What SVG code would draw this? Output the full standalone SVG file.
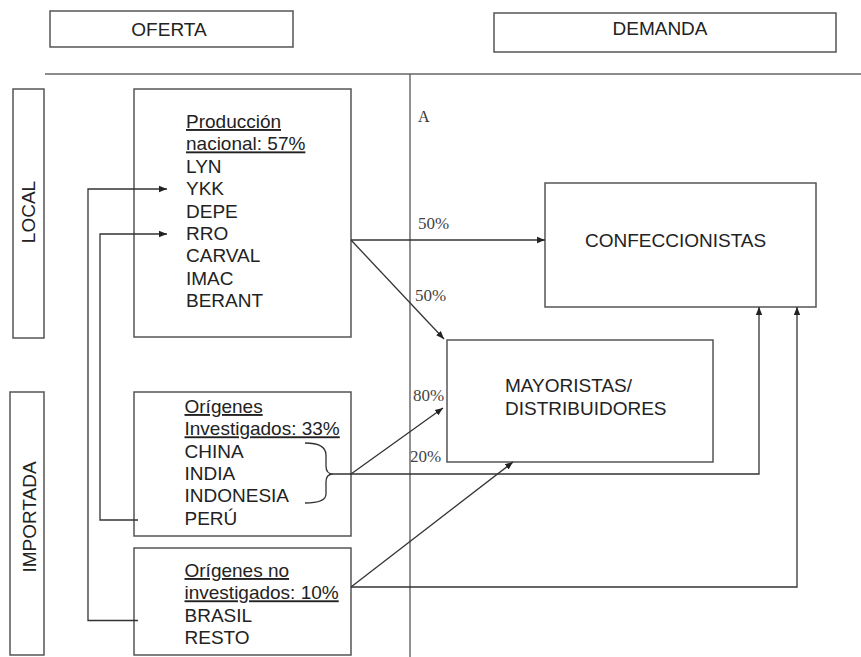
<svg xmlns="http://www.w3.org/2000/svg" width="861" height="657" viewBox="0 0 861 657">
<defs>
<marker id="arr" viewBox="0 0 10 10" refX="10" refY="5" markerWidth="8" markerHeight="8" markerUnits="userSpaceOnUse" orient="auto">
<path d="M0,1 L10,5 L0,9 z" fill="#222"/>
</marker>
<style>
.box{fill:none;stroke:#555;stroke-width:1.5}
.t{font-family:"Liberation Sans",Arial,sans-serif;font-size:19px;fill:#222}
.u{text-decoration:underline}
.p{font-family:"Liberation Serif","Times New Roman",serif;font-size:17px;fill:#444}
.c{fill:none;stroke:#333;stroke-width:1.3}
</style>
</defs>
<rect width="861" height="657" fill="#fff"/>

<g id="oferta">
<rect class="box" x="50" y="11" width="243" height="36"/>
<text class="t" x="169" y="36" text-anchor="middle">OFERTA</text>
</g>
<g id="demanda">
<rect class="box" x="494" y="13" width="342" height="39"/>
<text class="t" x="660" y="35" text-anchor="middle">DEMANDA</text>
</g>

<g id="dividers">
<line x1="45" y1="74" x2="861" y2="74" stroke="#666" stroke-width="1.5"/>
<line x1="410" y1="74" x2="410" y2="657" stroke="#555" stroke-width="1.3"/>
<text x="418" y="122" font-family="Liberation Serif,Times New Roman,serif" font-size="16" fill="#333">A</text>
</g>

<g id="local">
<rect class="box" x="13" y="89" width="31" height="249"/>
<text class="t" transform="translate(35,212) rotate(-90)" text-anchor="middle">LOCAL</text>
</g>
<g id="importada">
<rect class="box" x="10" y="392" width="34" height="263"/>
<text class="t" transform="translate(36,517) rotate(-90)" text-anchor="middle">IMPORTADA</text>
</g>

<g id="produccion">
<rect class="box" x="134" y="89" width="217" height="248"/>
<text class="t" x="186">
<tspan class="u" x="186" y="128">Producción</tspan>
<tspan class="u" x="186" y="150.4">nacional: 57%</tspan>
<tspan x="186" y="172.8">LYN</tspan>
<tspan x="186" y="195.2">YKK</tspan>
<tspan x="186" y="217.6">DEPE</tspan>
<tspan x="186" y="240">RRO</tspan>
<tspan x="186" y="262.4">CARVAL</tspan>
<tspan x="186" y="284.8">IMAC</tspan>
<tspan x="186" y="307.2">BERANT</tspan>
</text>
</g>

<g id="origenes-investigados">
<rect class="box" x="134" y="392" width="217" height="144"/>
<text class="t">
<tspan class="u" x="184.5" y="413">Orígenes</tspan>
<tspan class="u" x="184.5" y="435.3">Investigados: 33%</tspan>
<tspan x="184.5" y="457.6">CHINA</tspan>
<tspan x="184.5" y="479.9">INDIA</tspan>
<tspan x="184.5" y="502.2">INDONESIA</tspan>
<tspan x="184.5" y="524.5">PERÚ</tspan>
</text>
</g>

<g id="origenes-no-investigados">
<rect class="box" x="134" y="548" width="217" height="107"/>
<text class="t">
<tspan class="u" x="184.5" y="577">Orígenes no</tspan>
<tspan class="u" x="184.5" y="599.3">investigados: 10%</tspan>
<tspan x="184.5" y="621.6">BRASIL</tspan>
<tspan x="184.5" y="644">RESTO</tspan>
</text>
</g>

<g id="confeccionistas">
<rect class="box" x="545" y="183" width="271" height="124"/>
<text class="t" x="585" y="247">CONFECCIONISTAS</text>
</g>

<g id="mayoristas">
<rect class="box" x="447" y="340" width="266" height="122"/>
<text class="t">
<tspan x="505" y="392">MAYORISTAS/</tspan>
<tspan x="505" y="415">DISTRIBUIDORES</tspan>
</text>
</g>

<g id="connectors">
<polyline class="c" points="138,620.5 88,620.5 88,189 167,189" marker-end="url(#arr)"/>
<polyline class="c" points="138,520 100,520 100,234 167,234" marker-end="url(#arr)"/>
<line class="c" x1="351" y1="240" x2="545" y2="240" marker-end="url(#arr)"/>
<line class="c" x1="351" y1="240" x2="444" y2="339" marker-end="url(#arr)"/>
<line class="c" x1="351" y1="474" x2="443" y2="408" marker-end="url(#arr)"/>
<polyline class="c" points="333,474 759,474 759,307" marker-end="url(#arr)"/>
<line class="c" x1="351" y1="587" x2="513" y2="462" marker-end="url(#arr)"/>
<polyline class="c" points="351,587 797,587 797,307" marker-end="url(#arr)"/>
<path class="c" d="M305,443 Q326,443 326,455 L326,466 Q326,474 333,474 Q326,474 326,482 L326,494 Q326,503 305,503"/>
<text class="p" x="418" y="229">50%</text>
<text class="p" x="415" y="301">50%</text>
<text class="p" x="413" y="401">80%</text>
<text class="p" x="410" y="462">20%</text>
</g>
</svg>
